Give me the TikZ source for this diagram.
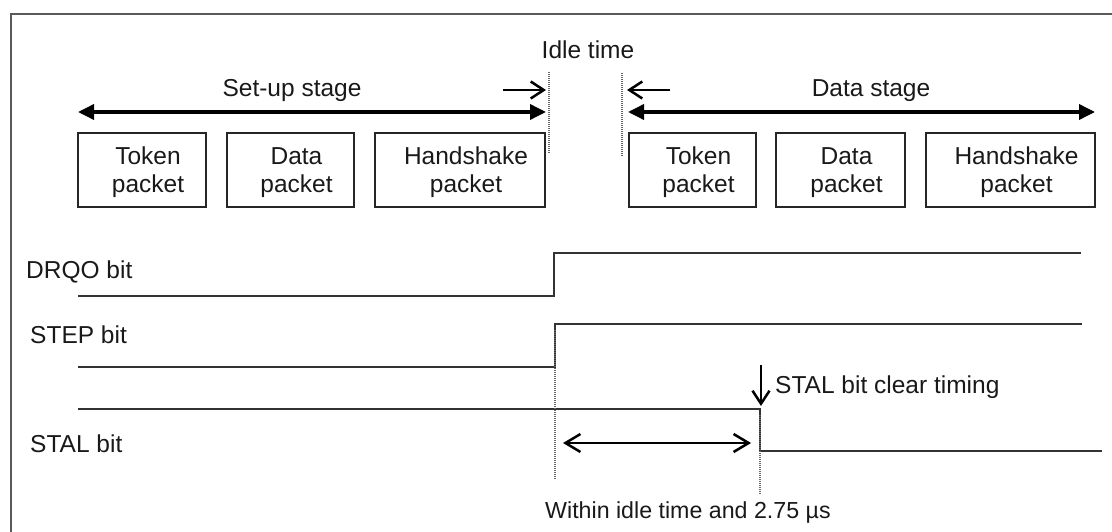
\documentclass[tikz,border=0pt]{standalone}
\usepackage{fontspec}
\setmainfont{Liberation Sans}
\usetikzlibrary{arrows.meta,calc}
\begin{document}
\begin{tikzpicture}[x=1pt,y=-1pt,
  font=\fontsize{24.5}{28}\selectfont,
  frame/.style={draw=black!65, line width=2pt},
  pkt/.style={draw=black!85, line width=1.4pt, inner sep=0pt, minimum height=74pt},
  lbl/.style={inner sep=0pt, anchor=base, text=black!90},
  lblw/.style={inner sep=0pt, anchor=base west, text=black!90},
  stagearrow/.style={line width=3.5pt, {Triangle[length=16pt,width=15pt]}-{Triangle[length=16pt,width=15pt]}},
  barbarrow/.style={line width=2.5pt, -{Straight Barb[length=13pt,width=17pt]}},
  barbboth/.style={line width=2.5pt, {Straight Barb[length=15pt,width=18pt]}-{Straight Barb[length=15pt,width=18pt]}},
  signal/.style={draw=black!80, line width=1.6pt},
  dots/.style={draw=black!60, line width=1.6pt, dash pattern=on 1pt off 1pt}
]
\useasboundingbox (0,0) rectangle (1112,532);
% frame
\draw[frame] (11,532) -- (11,14) -- (1112,14);

% packet boxes
\node[pkt, minimum width=128pt] (t1) at (142,170) {};
\node[pkt, minimum width=127pt] (d1) at (290.5,170) {};
\node[pkt, minimum width=170pt] (h1) at (460,170) {};
\node[pkt, minimum width=127pt] (t2) at (692.5,170) {};
\node[pkt, minimum width=129pt] (d2) at (840.5,170) {};
\node[pkt, minimum width=169pt] (h2) at (1010.5,170) {};
\foreach \b/\u in {t1/Token,d1/Data,h1/Handshake,t2/Token,d2/Data,h2/Handshake}{
  \node[lbl] (\b a) at ($(\b.center)+(6,-5)$) {\u};
  \node[lbl] (\b b) at ($(\b.center)+(6,23)$) {packet};
}

% stage labels
\node[lbl] (idle) at (588,59) {Idle time};
\node[lbl] (setup) at (292,97) {Set-up stage};
\node[lbl] (datast) at (871,97) {Data stage};

% idle time borders
\coordinate (ia) at (549,72);
\coordinate (ib) at (549,154);
\coordinate (ic) at (622,73);
\coordinate (id) at (622,156);
\draw[dots] (ia) -- (ib);
\draw[dots] (ic) -- (id);

% stage arrows
\coordinate (sua) at (78,112);
\coordinate (sub) at (546,112);
\coordinate (dsa) at (628,112);
\coordinate (dsb) at (1095,112);
\draw[stagearrow] (sua) -- (sub);
\draw[stagearrow] (dsa) -- (dsb);
\coordinate (ra) at (503,90);
\coordinate (rb) at (546,90);
\coordinate (la) at (670,90);
\coordinate (lb) at (627,90);
\draw[barbarrow] (ra) -- (rb);
\draw[barbarrow] (la) -- (lb);

% signal labels
\node[lblw] (drqo) at (26,278) {DRQO bit};
\node[lblw] (step) at (30,343) {STEP bit};
\node[lblw] (stal) at (30,452) {STAL bit};

% signals
\draw[signal] (78,296) -- (554,296) -- (554,253) -- (1081,253);
\draw[signal] (78,367) -- (555,367) -- (555,324) -- (1082,324);
\draw[signal] (78,409) -- (760,409) -- (760,451) -- (1102,451);

% timing marks
\coordinate (ta) at (555,330);
\coordinate (tb) at (555,479);
\coordinate (tc) at (760,415);
\coordinate (td) at (760,495);
\draw[dots] (ta) -- (tb);
\draw[dots] (tc) -- (td);
\coordinate (wa) at (563,443);
\coordinate (wb) at (751,443);
\draw[barbboth] (wa) -- (wb);
\coordinate (ca) at (761,365);
\coordinate (cb) at (761,406);
\draw[barbarrow] (ca) -- (cb);

\node[lblw] (clear) at (775,393) {STAL bit clear timing};
\node[lblw, font=\fontsize{23.2}{27}\selectfont] (within) at (545,518) {Within idle time and 2.75 µs};
\end{tikzpicture}
\end{document}
